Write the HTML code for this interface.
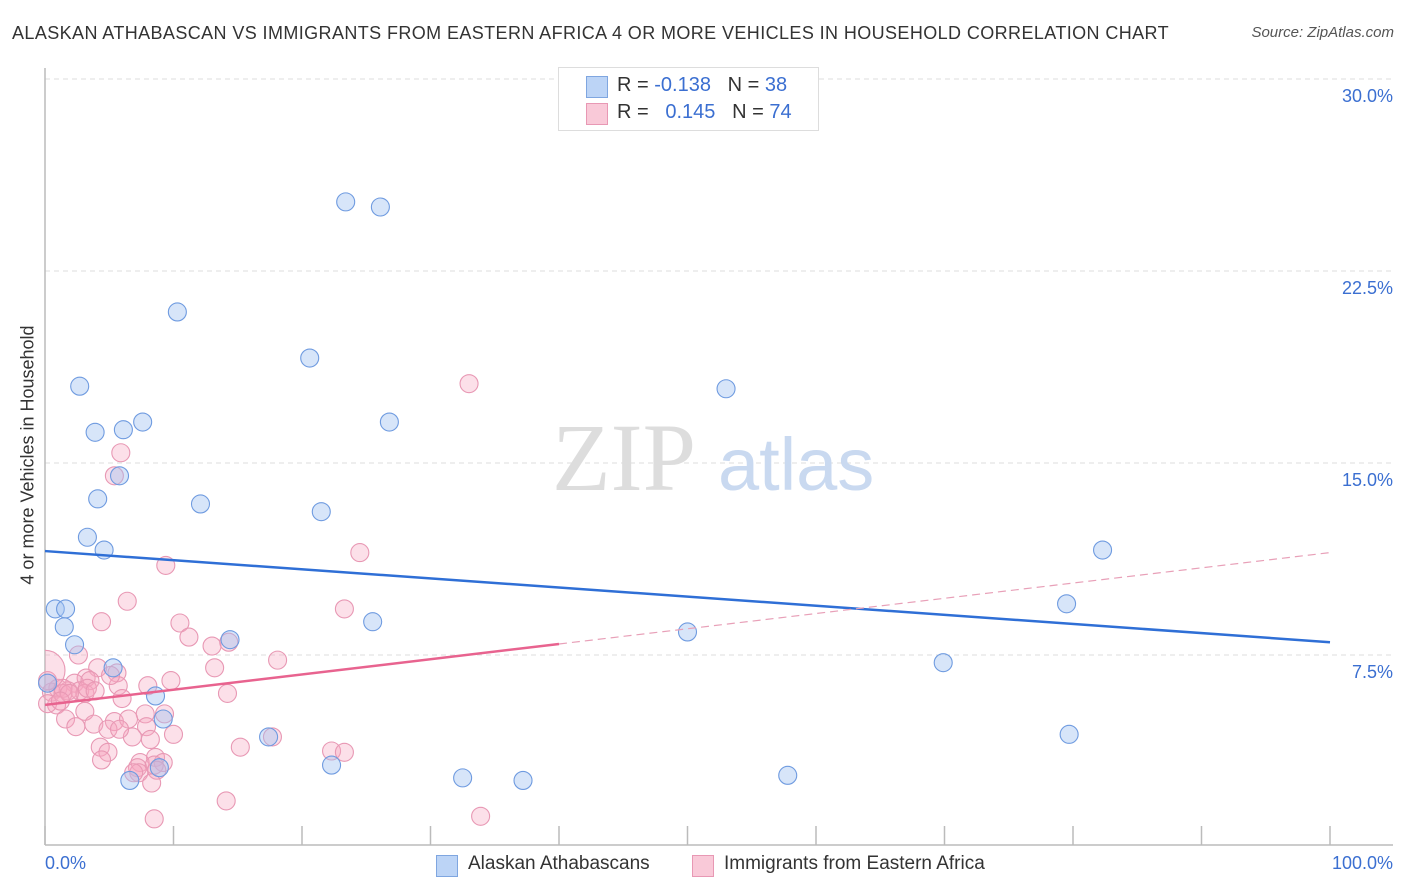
<!DOCTYPE html>
<html><head><meta charset="utf-8"><style>
body{margin:0;background:#fff;font-family:"Liberation Sans",sans-serif;}
#wrap{position:relative;width:1406px;height:892px;overflow:hidden;}
.t{position:absolute;white-space:nowrap;}
</style></head><body>
<div id="wrap">
<div class="t" style="left:12px;top:23px;font-size:18px;letter-spacing:0.4px;color:#333;">ALASKAN ATHABASCAN VS IMMIGRANTS FROM EASTERN AFRICA 4 OR MORE VEHICLES IN HOUSEHOLD CORRELATION CHART</div>
<div class="t" style="right:12px;top:24px;font-size:15px;color:#555;font-style:italic;">Source: ZipAtlas.com</div>
<svg id="svg" width="1406" height="892" style="position:absolute;left:0;top:0"><defs><clipPath id="pc"><rect x="45" y="60" width="1360" height="786"/></clipPath></defs></svg>
</div>
<script>
const blueX=[23.4,26.1,10.3,20.6,2.7,53.0,7.6,26.8,3.9,6.1,5.8,4.1,12.1,21.5,3.3,4.6,82.3,0.8,1.6,1.5,25.5,79.5,50.0,2.3,14.4,5.3,69.9,0.2,8.6,9.2,17.4,79.7,22.3,8.9,6.6,32.5,37.2,57.8];
const blueY=[25.2,25.0,20.9,19.1,18.0,17.9,16.6,16.6,16.2,16.3,14.5,13.6,13.4,13.1,12.1,11.6,11.6,9.3,9.3,8.6,8.8,9.5,8.4,7.9,8.1,7.0,7.2,6.4,5.9,5.0,4.3,4.4,3.2,3.1,2.6,2.7,2.6,2.8];
const pinkX=[33.0,5.9,5.4,24.5,9.4,6.4,23.3,4.4,10.5,11.2,13.0,14.3,2.6,18.1,4.1,13.2,5.6,3.2,2.3,3.5,9.8,0.2,1.0,1.8,2.7,0.5,1.4,3.1,8.0,5.7,14.2,0.9,0.2,6.0,3.1,9.3,7.8,1.6,3.8,2.4,5.4,6.5,7.9,10.0,4.9,4.3,6.8,4.9,4.4,8.6,7.4,9.2,7.2,8.5,8.7,7.3,8.3,6.9,15.2,17.7,22.3,23.3,14.1,8.5,33.9,1.4,1.9,5.1,3.3,5.8,1.2,3.9,8.2];
const pinkY=[18.1,15.4,14.5,11.5,11.0,9.6,9.3,8.8,8.75,8.2,7.85,8.0,7.5,7.3,7.0,7.0,6.8,6.6,6.4,6.5,6.5,6.5,6.2,6.1,6.1,6.05,6.0,6.0,6.3,6.3,6.0,5.55,5.6,5.8,5.3,5.2,5.2,5.0,4.8,4.7,4.9,5.0,4.7,4.4,4.6,3.9,4.3,3.7,3.4,3.5,3.3,3.3,3.1,3.2,3.0,2.9,2.5,2.9,3.9,4.3,3.75,3.7,1.8,1.1,1.2,6.2,6.0,6.7,6.2,4.6,5.7,6.1,4.2];
const yTicks=[7.5,15.0,22.5,30.0];
const blueLine=[11.56,8.0];
const pinkLine=[5.55,11.5];
const NS="http://www.w3.org/2000/svg";
const svg=document.getElementById('svg');
const X=v=>45+v*12.85, Y=v=>847-v*25.6;
function mk(t,a){const e=document.createElementNS(NS,t);for(const k in a)e.setAttribute(k,a[k]);svg.appendChild(e);return e;}
yTicks.forEach(v=>{
 const l=mk('line',{x1:45,x2:1393,y1:Y(v),y2:Y(v),stroke:'#ddd','stroke-dasharray':'5,4'});
 
 
 const t=mk('text',{x:1393,y:Y(v)+23,'text-anchor':'end','font-size':18,fill:'#3b6fd1','font-family':'Liberation Sans'});
 t.textContent=v.toFixed(1)+'%';
 
 
});
const ax=mk('line',{x1:45,x2:1393,y1:845,y2:845,stroke:'#bbb','stroke-width':1.5});


const ay=mk('line',{x1:45,x2:45,y1:68,y2:845,stroke:'#bbb','stroke-width':1.5});


for(let i=0;i<=10;i++){const tk=mk('line',{x1:X(i*10),x2:X(i*10),y1:826,y2:845,stroke:'#bbb','stroke-width':1.5});
 
 }
const w1=mk('text',{x:552,y:490,'font-size':96,fill:'#ddd','font-family':'Liberation Serif'});w1.textContent='ZIP';


const w2=mk('text',{x:718,y:490,'font-size':74,fill:'#c9d9f0','font-family':'Liberation Sans'});w2.textContent='atlas';


pinkX.forEach((x,i)=>{const c=mk('circle',{cx:X(x),cy:Y(pinkY[i]),r:9,fill:'rgba(245,165,192,0.35)',stroke:'#e898b4','stroke-width':1.1});
 
 });
const big=mk('circle',{cx:X(0),cy:Y(6.9),r:20,fill:'rgba(245,165,192,0.35)',stroke:'#e898b4','stroke-width':1.1,'clip-path':'url(#pc)'});


blueX.forEach((x,i)=>{const c=mk('circle',{cx:X(x),cy:Y(blueY[i]),r:9,fill:'rgba(160,192,240,0.42)',stroke:'#6f9be0','stroke-width':1.1});
 
 });
const bl=mk('line',{x1:X(0),y1:Y(blueLine[0]),x2:X(100),y2:Y(blueLine[1]),stroke:'#2f6fd6','stroke-width':2.5});


const py=v=>pinkLine[0]+(pinkLine[1]-pinkLine[0])*v/100;
const pl=mk('line',{x1:X(0),y1:Y(py(0)),x2:X(40),y2:Y(py(40)),stroke:'#e8638f','stroke-width':2.5});


const pd=mk('line',{x1:X(40),y1:Y(py(40)),x2:X(100),y2:Y(py(100)),stroke:'#e8a0b8','stroke-width':1.2,'stroke-dasharray':'8,5'});


</script>
<div class="t" style="left:28px;top:455px;font-size:18px;color:#333;transform:translate(-50%,-50%) rotate(-90deg);">4 or more Vehicles in Household</div>
<div class="t" style="left:45px;top:853px;font-size:18px;color:#3b6fd1;">0.0%</div>
<div class="t" style="right:13px;top:853px;font-size:18px;color:#3b6fd1;">100.0%</div>
<div style="position:absolute;left:558px;top:67px;width:259px;height:62px;border:1px solid #ddd;background:#fff;font-size:20px;">
 <div style="position:absolute;left:27px;top:8px;width:20px;height:20px;background:#bcd4f6;border:1px solid #7fa6e0;"></div>
 <div class="t" style="left:58px;top:6px;color:#333;">R = <span style="color:#3b6fd1">-0.138</span>&nbsp;&nbsp;&nbsp;N = <span style="color:#3b6fd1">38</span></div>
 <div style="position:absolute;left:27px;top:35px;width:20px;height:20px;background:#f9c9d8;border:1px solid #e898b4;"></div>
 <div class="t" style="left:58px;top:33px;color:#333;">R = &nbsp;&nbsp;<span style="color:#3b6fd1">0.145</span>&nbsp;&nbsp;&nbsp;N = <span style="color:#3b6fd1">74</span></div>
</div>
<div style="position:absolute;left:436px;top:853px;font-size:19px;color:#333;">
 <div style="position:absolute;left:0;top:2px;width:20px;height:20px;background:#bcd4f6;border:1px solid #7fa6e0;"></div>
 <div class="t" style="left:32px;top:0;">Alaskan Athabascans</div>
 <div style="position:absolute;left:256px;top:2px;width:20px;height:20px;background:#f9c9d8;border:1px solid #e898b4;"></div>
 <div class="t" style="left:288px;top:0;">Immigrants from Eastern Africa</div>
</div>
</body></html>
